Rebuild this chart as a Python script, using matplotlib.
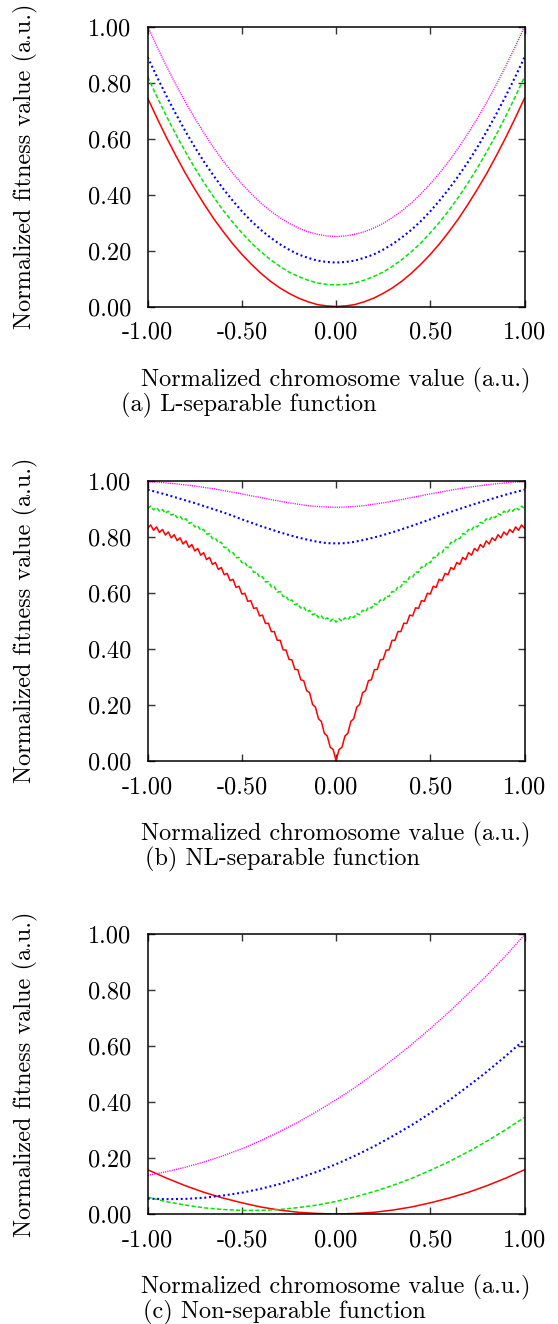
import numpy as np
import matplotlib
matplotlib.use("Agg")
import matplotlib.pyplot as plt

plt.rcParams['font.family'] = 'cmr10'
plt.rcParams['axes.formatter.use_mathtext'] = True
plt.rcParams['lines.scale_dashes'] = False

# ---------------- data ----------------
x_c21 = [-1.0, -0.9, -0.8, -0.7, -0.6, -0.5, -0.4, -0.3, -0.2, -0.1, 0.0,
         0.1, 0.2, 0.3, 0.4, 0.5, 0.6, 0.7, 0.8, 0.9, 1.0]
x_c41 = np.linspace(-1.0, 1.0, 41)
x_c129 = np.linspace(-1.0, 1.0, 129)

# (a) L-separable
red_a = [0.744, 0.672, 0.603, 0.538, 0.476, 0.419, 0.365, 0.314, 0.268, 0.225, 0.186,
         0.151, 0.119, 0.091, 0.067, 0.047, 0.030, 0.017, 0.007, 0.002, 0.000,
         0.002, 0.007, 0.017, 0.030, 0.047, 0.067, 0.091, 0.119, 0.151, 0.186,
         0.225, 0.268, 0.314, 0.365, 0.419, 0.476, 0.538, 0.603, 0.672, 0.744]
green_a = [0.820, 0.748, 0.679, 0.614, 0.553, 0.495, 0.441, 0.391, 0.344, 0.302, 0.263,
           0.227, 0.196, 0.168, 0.144, 0.123, 0.107, 0.094, 0.084, 0.079, 0.077,
           0.079, 0.084, 0.094, 0.107, 0.123, 0.144, 0.168, 0.196, 0.227, 0.263,
           0.302, 0.344, 0.391, 0.441, 0.495, 0.553, 0.614, 0.679, 0.748, 0.820]
blue_a = [0.890, 0.819, 0.751, 0.687, 0.626, 0.569, 0.516, 0.467, 0.421, 0.379, 0.340,
          0.305, 0.274, 0.247, 0.223, 0.203, 0.186, 0.174, 0.164, 0.159, 0.157,
          0.159, 0.164, 0.174, 0.186, 0.203, 0.223, 0.247, 0.274, 0.305, 0.340,
          0.379, 0.421, 0.467, 0.516, 0.569, 0.626, 0.687, 0.751, 0.819, 0.890]
magenta_a = [1.000, 0.927, 0.858, 0.792, 0.730, 0.672, 0.618, 0.567, 0.520, 0.477, 0.438,
             0.402, 0.370, 0.342, 0.318, 0.297, 0.280, 0.267, 0.258, 0.252, 0.250,
             0.252, 0.258, 0.267, 0.280, 0.297, 0.318, 0.342, 0.370, 0.402, 0.438,
             0.477, 0.520, 0.567, 0.618, 0.672, 0.730, 0.792, 0.858, 0.927, 1.000]

# (b) NL-separable
red_b = [0.830, 0.842, 0.823, 0.835, 0.815, 0.826, 0.806, 0.817, 0.796, 0.807, 0.786, 0.796,
         0.774, 0.785, 0.762, 0.772, 0.749, 0.758, 0.734, 0.743, 0.718, 0.726, 0.701, 0.708,
         0.683, 0.690, 0.664, 0.669, 0.643, 0.648, 0.619, 0.623, 0.595, 0.598, 0.569, 0.572,
         0.544, 0.546, 0.517, 0.520, 0.490, 0.491, 0.461, 0.461, 0.430, 0.430, 0.396, 0.395,
         0.362, 0.360, 0.326, 0.325, 0.289, 0.286, 0.250, 0.243, 0.201, 0.191, 0.150, 0.140,
         0.098, 0.088, 0.048, 0.040,
         0.000,
         0.040, 0.048, 0.088, 0.098, 0.140, 0.150, 0.191, 0.201, 0.243, 0.250, 0.286, 0.289,
         0.325, 0.326, 0.360, 0.362, 0.395, 0.396, 0.430, 0.430, 0.461, 0.461, 0.491, 0.490,
         0.520, 0.517, 0.546, 0.544, 0.572, 0.569, 0.598, 0.595, 0.623, 0.619, 0.648, 0.643,
         0.669, 0.664, 0.690, 0.683, 0.708, 0.701, 0.726, 0.718, 0.743, 0.734, 0.758, 0.749,
         0.772, 0.762, 0.785, 0.774, 0.796, 0.786, 0.807, 0.796, 0.817, 0.806, 0.826, 0.815,
         0.835, 0.823, 0.842, 0.830]
green_b = [0.901, 0.909, 0.896, 0.904, 0.891, 0.897, 0.884, 0.891, 0.877, 0.882, 0.868, 0.873,
           0.859, 0.864, 0.848, 0.851, 0.835, 0.839, 0.823, 0.826, 0.809, 0.811, 0.793, 0.795,
           0.778, 0.780, 0.761, 0.762, 0.743, 0.743, 0.725, 0.726, 0.707, 0.709, 0.690, 0.692,
           0.673, 0.674, 0.655, 0.657, 0.638, 0.640, 0.621, 0.622, 0.602, 0.604, 0.586, 0.588,
           0.570, 0.574, 0.557, 0.561, 0.545, 0.549, 0.532, 0.537, 0.521, 0.526, 0.511, 0.517,
           0.503, 0.510, 0.498, 0.507,
           0.495,
           0.507, 0.498, 0.510, 0.503, 0.517, 0.511, 0.526, 0.521, 0.537, 0.532, 0.549, 0.545,
           0.561, 0.557, 0.574, 0.570, 0.588, 0.586, 0.604, 0.602, 0.622, 0.621, 0.640, 0.638,
           0.657, 0.655, 0.674, 0.673, 0.692, 0.690, 0.709, 0.707, 0.726, 0.725, 0.743, 0.743,
           0.762, 0.761, 0.780, 0.778, 0.795, 0.793, 0.811, 0.809, 0.826, 0.823, 0.839, 0.835,
           0.851, 0.848, 0.864, 0.859, 0.873, 0.868, 0.882, 0.877, 0.891, 0.884, 0.897, 0.891,
           0.904, 0.896, 0.909, 0.901]
blue_b = [0.968, 0.959, 0.950, 0.940, 0.930, 0.920, 0.909, 0.898, 0.887, 0.875, 0.862,
          0.850, 0.838, 0.827, 0.816, 0.806, 0.797, 0.789, 0.782, 0.777, 0.776,
          0.777, 0.782, 0.789, 0.797, 0.806, 0.816, 0.827, 0.838, 0.850, 0.862,
          0.875, 0.887, 0.898, 0.909, 0.920, 0.930, 0.940, 0.950, 0.959, 0.968]
magenta_b = [0.997, 0.995, 0.992, 0.989, 0.985, 0.981, 0.976, 0.971, 0.965, 0.959, 0.953,
             0.946, 0.940, 0.933, 0.927, 0.921, 0.916, 0.911, 0.908, 0.906, 0.905,
             0.906, 0.908, 0.911, 0.916, 0.921, 0.927, 0.933, 0.940, 0.946, 0.953,
             0.959, 0.965, 0.971, 0.976, 0.981, 0.985, 0.989, 0.992, 0.995, 0.997]

# (c) Non-separable
red_c = [0.158, 0.128, 0.101, 0.077, 0.057, 0.040, 0.025, 0.014, 0.006, 0.002, 0.000,
         0.002, 0.006, 0.014, 0.025, 0.040, 0.057, 0.077, 0.101, 0.128, 0.158]
green_c = [0.060, 0.044, 0.032, 0.022, 0.016, 0.013, 0.013, 0.016, 0.023, 0.032, 0.045,
           0.061, 0.080, 0.102, 0.127, 0.156, 0.187, 0.222, 0.260, 0.301, 0.345]
blue_c = [0.055, 0.053, 0.054, 0.058, 0.066, 0.076, 0.090, 0.107, 0.128, 0.151, 0.178,
          0.208, 0.241, 0.278, 0.317, 0.360, 0.406, 0.456, 0.508, 0.564, 0.623]
magenta_c = [0.138, 0.151, 0.167, 0.186, 0.208, 0.233, 0.262, 0.294, 0.329, 0.367, 0.408,
             0.452, 0.500, 0.551, 0.605, 0.662, 0.722, 0.786, 0.852, 0.922, 0.997]

xticks = [-1.0, -0.5, 0.0, 0.5, 1.0]
xticklabels = ["-1.00", "-0.50", "0.00", "0.50", "1.00"]
yticks = [0.0, 0.2, 0.4, 0.6, 0.8, 1.0]
yticklabels = ["0.00", "0.20", "0.40", "0.60", "0.80", "1.00"]

xlabel = "Normalized chromosome value (a.u.)"
ylabel = "Normalized fitness value (a.u.)"
captions = ["(a) L-separable function", "(b) NL-separable function",
            "(c) Non-separable function"]

# ---------------- styles ----------------
RED = dict(color="#ff0000", lw=1.1, ls="-")
GREEN = dict(color="#00e600", lw=1.1, ls=(0, (3.0, 1.6)))
BLUE = dict(color="#0000ff", lw=1.5, ls=(0, (1.4, 2.0)))
MAGENTA = dict(color="#ff00ff", lw=1.0, ls=(0, (0.8, 0.8)))

W, H = 558, 1324
fig = plt.figure(figsize=(W / 100, H / 100), dpi=100)

ax_left = 147.7
ax_right = 524.5
ax_h = 280.0
tops = [26.5, 480.7, 934.0]
cap_left = [120.7, 145.0, 143.0]

panels = [
    (x_c41, red_a, x_c41, green_a, x_c41, blue_a, x_c41, magenta_a),
    (x_c129, red_b, x_c129, green_b, x_c41, blue_b, x_c41, magenta_b),
    (x_c21, red_c, x_c21, green_c, x_c21, blue_c, x_c21, magenta_c),
]

fs = 17.5
for i, p in enumerate(panels):
    top = tops[i]
    rect = [ax_left / W, (H - top - ax_h) / H, (ax_right - ax_left) / W, ax_h / H]
    ax = fig.add_axes(rect)
    ax.plot(p[0], p[1], **RED)
    ax.plot(p[2], p[3], **GREEN)
    ax.plot(p[4], p[5], **BLUE)
    ax.plot(p[6], p[7], **MAGENTA)
    ax.set_xlim(-1, 1)
    ax.set_ylim(0, 1)
    ax.set_xticks(xticks)
    ax.set_xticklabels(xticklabels)
    ax.set_yticks(yticks)
    ax.set_yticklabels(yticklabels)
    ax.tick_params(direction="in", length=5, width=1.0, color="#333333",
                   top=True, right=True, labelsize=fs)
    ax.tick_params(axis="x", pad=11)
    ax.tick_params(axis="y", pad=12)
    for s in ax.spines.values():
        s.set_linewidth(1.1)
        s.set_color("black")
    ax.set_xlabel(xlabel, fontsize=fs)
    ax.xaxis.label.set_va("center")
    ax.xaxis.set_label_coords(0.5, -73.5 / ax_h)
    ax.set_ylabel(ylabel, fontsize=fs)
    ax.yaxis.label.set_va("center")
    ax.yaxis.label.set_ha("center")
    ax.yaxis.set_label_coords((25 - ax_left) / (ax_right - ax_left), 0.5)
    ax.text((cap_left[i] - ax_left) / (ax_right - ax_left), -98.5 / ax_h, captions[i],
            transform=ax.transAxes, ha="left", va="center", fontsize=fs)

fig.savefig("out.png", dpi=100)
